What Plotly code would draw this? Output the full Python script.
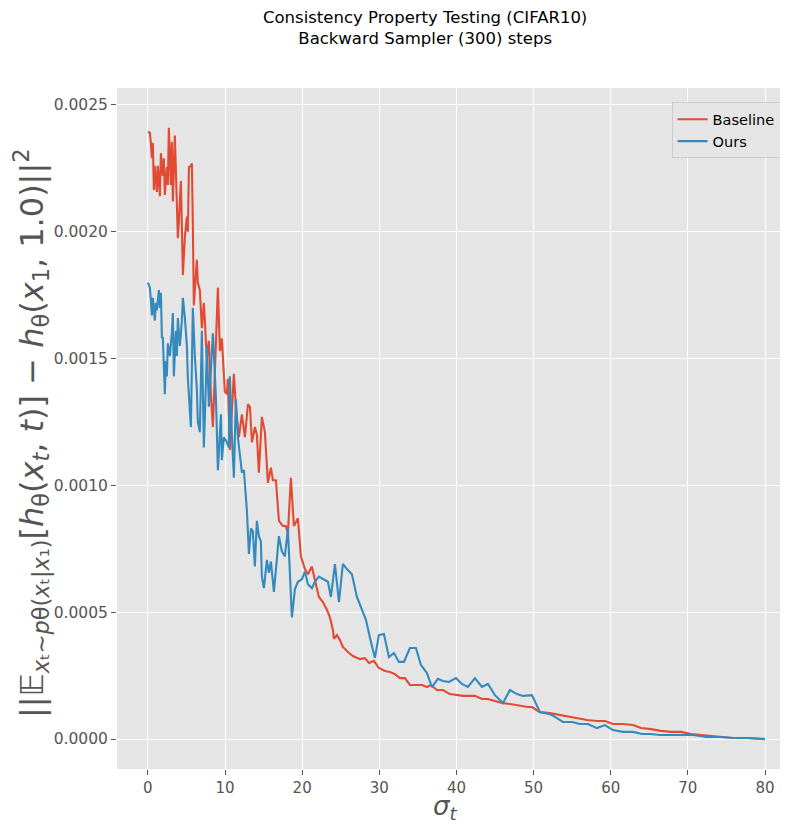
import plotly.graph_objects as go

# Baseline (red) series: sigma_t and values
baseline_sigma = [0, 0.26, 0.39, 0.52, 0.65, 0.78, 0.91, 1.17, 1.30, 1.43, 1.56, 1.69, 1.94, 2.07, 2.20,
                  2.46, 2.59, 2.72, 2.98, 3.11, 3.24, 3.50, 3.76, 3.89, 4.02, 4.28, 4.41, 4.54, 4.80,
                  5.06, 5.19, 5.32, 5.58, 5.71, 5.83, 5.96, 6.35, 6.48, 6.74, 7.00, 7.26, 7.52, 7.65,
                  7.91, 8.17, 8.43, 8.82, 9.08, 9.34, 9.59, 9.98, 10.24, 10.37, 10.63, 11.15, 11.41,
                  11.80, 12.19, 12.58, 12.97, 13.23, 13.49, 13.88, 14.13, 14.39, 14.78, 15.17, 15.56,
                  15.95, 16.21, 16.60, 16.99, 17.50, 17.89, 18.15, 18.54, 18.93, 19.45, 19.84, 20.36,
                  20.75, 21.26, 21.78, 22.17, 22.69, 23.21, 23.60, 23.99, 24.12, 24.51, 24.89, 25.28,
                  25.93, 26.58, 27.49, 28.14, 28.66, 29.30, 29.95, 30.73, 31.38, 32.03, 32.67, 33.32,
                  33.97, 34.88, 35.53, 36.18, 36.69, 37.47, 38.25, 39.16, 40.06, 40.84, 41.75, 42.40,
                  43.31, 44.08, 44.99, 45.90, 46.94, 48.23, 49.27, 49.79, 50.83, 52.12, 53.42, 54.72,
                  55.75, 56.92, 58.22, 59.25, 60.29, 61.59, 62.88, 63.92, 65.22, 66.51, 67.81, 69.11,
                  70.40, 71.70, 72.99, 74.29, 75.85, 77.67, 80.0]
baseline_vals = [0.002395, 0.00239, 0.00235, 0.00229, 0.00235, 0.002165, 0.00226, 0.002157, 0.00226,
                 0.00221, 0.00214, 0.00231, 0.00222, 0.00229, 0.002145, 0.002255, 0.002185, 0.00241,
                 0.002185, 0.002355, 0.00212, 0.00238, 0.002105, 0.001975, 0.00204, 0.0022, 0.00202,
                 0.00183, 0.00198, 0.00206, 0.002, 0.002255, 0.00226, 0.00227, 0.00203, 0.00171,
                 0.00189, 0.0018, 0.00177, 0.00162, 0.00172, 0.0016, 0.0015, 0.00157, 0.00136,
                 0.00123, 0.00155, 0.00178, 0.00153, 0.00158, 0.00137, 0.00136, 0.00142, 0.00114,
                 0.00144, 0.00131, 0.00119, 0.00128, 0.00119, 0.00132, 0.00131, 0.00117, 0.00123,
                 0.0012, 0.00105, 0.00127, 0.00121, 0.00101, 0.00107, 0.00102, 0.00102, 0.00086,
                 0.00084, 0.00084, 0.00081, 0.00103, 0.00084, 0.00087, 0.00072, 0.00067, 0.00065,
                 0.00068, 0.00061, 0.00056, 0.00054, 0.00051, 0.00048, 0.00043, 0.000395, 0.00041,
                 0.00039, 0.000363, 0.000343, 0.000327, 0.000315, 0.000319, 0.0003, 0.000308,
                 0.00028, 0.000268, 0.000264, 0.000256, 0.00024, 0.00024, 0.000213, 0.000213,
                 0.000213, 0.000205, 0.000213, 0.000193, 0.000193, 0.000177, 0.000173, 0.00017,
                 0.00017, 0.00017, 0.000158, 0.000158, 0.00015, 0.000142, 0.000138, 0.00013,
                 0.000126, 0.000126, 0.000106, 0.000102, 0.000095, 0.000087, 0.000083, 0.000075,
                 0.000071, 0.000071, 0.000059, 0.000059, 0.000055, 0.000043, 0.000039, 0.000032,
                 0.000028, 0.000028, 0.00002, 0.000016, 0.000012, 0.000008, 0.000004, 0.000004, 0.0]

# Ours (blue) series
ours_sigma = [0, 0.13, 0.26, 0.39, 0.52, 0.65, 0.91, 1.04, 1.17, 1.43, 1.56, 1.69, 1.82, 1.94, 2.20,
              2.33, 2.46, 2.59, 2.85, 3.11, 3.24, 3.37, 3.63, 3.76, 3.89, 4.15, 4.41, 4.54, 4.80,
              5.06, 5.19, 5.58, 5.83, 6.09, 6.35, 6.48, 6.74, 7.00, 7.26, 7.52, 7.65, 7.91, 8.43,
              8.82, 9.08, 9.47, 9.59, 9.85, 10.24, 10.50, 10.63, 10.89, 11.15, 11.41, 11.67, 12.19,
              12.45, 12.84, 12.97, 13.10, 13.36, 13.61, 13.87, 14.13, 14.39, 14.65, 14.78, 15.04,
              15.43, 15.69, 15.95, 16.34, 16.99, 17.37, 17.76, 18.15, 18.67, 19.06, 19.45, 19.97,
              20.36, 20.75, 21.26, 21.65, 22.17, 22.69, 23.34, 23.73, 24.25, 24.77, 25.28, 25.80,
              26.45, 27.10, 27.75, 28.27, 28.78, 29.43, 29.95, 30.60, 31.25, 31.90, 32.54, 33.19,
              33.97, 34.75, 35.40, 36.18, 36.82, 37.60, 38.25, 39.03, 39.94, 40.71, 41.49, 42.40,
              43.31, 44.08, 44.99, 46.03, 46.94, 47.85, 48.62, 49.79, 50.83, 52.12, 52.77, 53.81,
              54.98, 56.01, 57.05, 58.22, 59.25, 60.29, 61.59, 62.88, 64.05, 65.09, 66.39, 67.68,
              68.98, 70.66, 72.48, 74.17, 75.85, 77.67, 80.0]
ours_vals = [0.0018, 0.00179, 0.00178, 0.00173, 0.00167, 0.00174, 0.00165, 0.00172, 0.00169, 0.00177,
             0.0017, 0.00176, 0.00158, 0.001585, 0.00136, 0.00149, 0.00143, 0.00156, 0.00151, 0.0016,
             0.00168, 0.00143, 0.00161, 0.00151, 0.00166, 0.00155, 0.00165, 0.00174, 0.00166,
             0.00155, 0.00142, 0.00123, 0.0017, 0.00151, 0.00138, 0.00125, 0.00121, 0.00161,
             0.00115, 0.0014, 0.00155, 0.00131, 0.0016, 0.00135, 0.00106, 0.00128, 0.0011, 0.00119,
             0.00117, 0.00115, 0.00143, 0.0012, 0.00103, 0.00134, 0.00119, 0.00105, 0.00106,
             0.0009, 0.0008, 0.00073, 0.00083, 0.00082, 0.00068, 0.00086, 0.0008, 0.00078,
             0.00064, 0.000595, 0.000706, 0.000655, 0.0007, 0.00058, 0.0008, 0.00074, 0.00072,
             0.00083, 0.00048, 0.00059, 0.00062, 0.00063, 0.00066, 0.00061, 0.000595, 0.00062,
             0.00064, 0.00063, 0.00062, 0.00056, 0.00069, 0.00054, 0.00069, 0.00067, 0.00065,
             0.00056, 0.00051, 0.00047, 0.0004, 0.00032, 0.00041, 0.000414, 0.000323, 0.000339,
             0.000304, 0.000304, 0.000359, 0.000359, 0.000292, 0.00026, 0.000205, 0.000237,
             0.000229, 0.000225, 0.00024, 0.000217, 0.000205, 0.00024, 0.000205, 0.000217,
             0.000173, 0.000142, 0.000193, 0.000177, 0.00017, 0.000173, 0.000106, 0.000098,
             0.000087, 0.000067, 0.000067, 0.000059, 0.000059, 0.000043, 0.000055, 0.000035,
             0.000028, 0.000028, 0.00002, 0.00002, 0.000016, 0.000016, 0.000016, 0.000016,
             0.000008, 0.000008, 0.000004, 0.000004, 0.0]

x_ticks = [0, 10, 20, 30, 40, 50, 60, 70, 80]
y_ticks = [0.0, 0.0005, 0.0010, 0.0015, 0.0020, 0.0025]
y_tick_labels = ["0.0000", "0.0005", "0.0010", "0.0015", "0.0020", "0.0025"]

RED = "#E24A33"
BLUE = "#348ABD"
FONT = "DejaVu Sans"

fig = go.Figure()
fig.add_trace(go.Scatter(x=baseline_sigma, y=baseline_vals, mode="lines", name="Baseline",
                         line=dict(color=RED, width=2.1)))
fig.add_trace(go.Scatter(x=ours_sigma, y=ours_vals, mode="lines", name="Ours",
                         line=dict(color=BLUE, width=2.1)))

fig.update_layout(
    width=780, height=815,
    margin=dict(l=109, r=0, t=80, b=54),
    paper_bgcolor="white",
    plot_bgcolor="#E5E5E5",
    font=dict(family=FONT, color="#555555", size=15),
    showlegend=True,
    legend=dict(x=0.989, y=0.979, xanchor="right", yanchor="top",
                bgcolor="#E5E5E5", bordercolor="#CCCCCC", borderwidth=1,
                font=dict(size=14.5, color="black", family=FONT),
                tracegroupgap=2),
    xaxis=dict(range=[-4.0, 82.98], tickvals=x_ticks, ticks="outside", ticklen=5,
               tickcolor="#555555", tickwidth=1, showgrid=True, gridcolor="white", gridwidth=1.3,
               zeroline=False, showline=False, tickfont=dict(size=15, color="#555555")),
    yaxis=dict(range=[-0.0001183, 0.002567], tickvals=y_ticks, ticktext=y_tick_labels,
               ticks="outside", ticklen=5, tickcolor="#555555", tickwidth=1,
               showgrid=True, gridcolor="white", gridwidth=1.3, zeroline=False, showline=False,
               tickfont=dict(size=15.5, color="#555555")),
    annotations=[
        dict(text="Consistency Property Testing (CIFAR10)<br>Backward Sampler (300) steps",
             xref="paper", yref="paper", x=0.459, y=1.088, xanchor="center", yanchor="middle",
             showarrow=False, font=dict(size=16.5, color="black", family=FONT)),
        dict(text="<i>σ</i><sub><i>t</i></sub>", xref="paper", yref="paper",
             x=0.489, y=-0.057, xanchor="center", yanchor="middle", showarrow=False,
             font=dict(size=26, color="#555555", family=FONT)),
        dict(text="||𝔼<sub><i>x</i>ₜ∼<i>p</i>θ(<i>x</i>ₜ|<i>x</i>₁)</sub>[<i>h</i><sub>θ</sub>(<i>x</i><sub><i>t</i></sub>, <i>t</i>)] − <i>h</i><sub>θ</sub>(<i>x</i><sub>1</sub>, 1.0)||<sup>2</sup>",
             xref="paper", yref="paper", x=-0.128, y=0.492, xanchor="center", yanchor="middle",
             textangle=-90, showarrow=False,
             font=dict(size=32, color="#555555", family=FONT)),
    ],
)

fig.write_html("out.html")
